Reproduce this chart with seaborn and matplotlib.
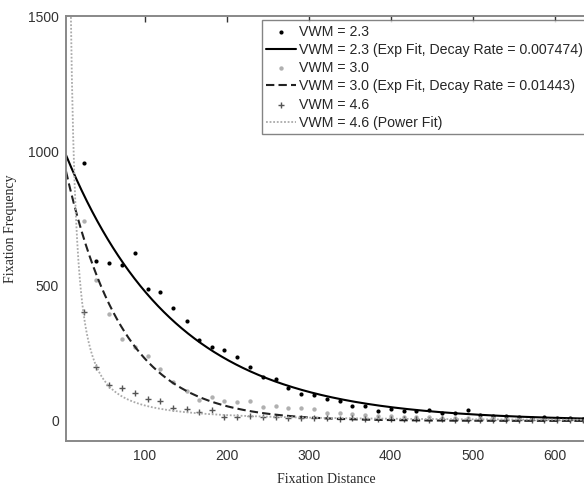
import numpy as np
import matplotlib
matplotlib.use('Agg')
import matplotlib.pyplot as plt
import seaborn as sns

sns.set_theme(style='white')
plt.rcParams['font.family'] = ['Liberation Sans', 'DejaVu Sans']

# 데이터
dist = [26, 41, 57, 72, 88, 104, 119, 135, 151, 166, 182, 197, 213, 229, 244,
        260, 275, 291, 307, 322, 338, 353, 369, 385, 400, 416, 431, 447, 463,
        478, 494, 509, 525, 541, 556, 572, 587, 603, 619, 634]
vwm23 = [956, 594, 584, 578, 621, 489, 479, 417, 370, 300, 275, 263, 235, 201,
         164, 155, 121, 99, 96, 80, 72, 57, 57, 37, 44, 35, 37, 41, 30, 31, 41,
         22, 18, 20, 15, 12, 13, 10, 9, 8]
vwm30 = [742, 522, 396, 302, 273, 241, 191, 146, 111, 78, 90, 72, 69, 72, 53,
         57, 49, 48, 44, 30, 28, 25, 22, 20, 18, 16, 15, 14, 12, 12, 10, 10, 9,
         8, 8, 7, 7, 6, 6, 5]
vwm46 = [405, 199, 133, 123, 103, 80, 72, 47, 43, 34, 41, 16, 16, 20, 14, 16,
         10, 10, 12, 9, 8, 10, 7, 8, 6, 7, 6, 5, 6, 5, 5, 4, 5, 4, 4, 3, 4, 3,
         3, 3]

# 피팅 파라미터
amp23, rate23 = 1015, 0.007474
amp30, rate30 = 980, 0.01443
pow_a, pow_b = 38600, -1.414

xfit = np.linspace(4, 640, 800)
fit23 = amp23 * np.exp(-rate23 * xfit)
fit30 = amp30 * np.exp(-rate30 * xfit)
fit46 = pow_a * xfit ** pow_b

fig = plt.figure(figsize=(5.84, 4.88), dpi=100)
ax = fig.add_axes([0.113, 0.096, 0.893, 0.871])

sns.scatterplot(x=dist, y=vwm23, ax=ax, marker='o', s=9, color='black',
                linewidth=0, label='VWM = 2.3')
sns.lineplot(x=xfit, y=fit23, ax=ax, color='black', linewidth=1.5,
             label='VWM = 2.3 (Exp Fit, Decay Rate = 0.007474)')
sns.scatterplot(x=dist, y=vwm30, ax=ax, marker='o', s=10, color='#b0b0b0',
                linewidth=0, label='VWM = 3.0')
sns.lineplot(x=xfit, y=fit30, ax=ax, color='#222222', linewidth=1.5,
             linestyle=(0, (4, 2)),
             label='VWM = 3.0 (Exp Fit, Decay Rate = 0.01443)')
sns.scatterplot(x=dist, y=vwm46, ax=ax, marker='+', s=20, color='#555555',
                linewidth=1.0, label='VWM = 4.6')
sns.lineplot(x=xfit, y=fit46, ax=ax, color='#aaaaaa', linewidth=1.3,
             linestyle=(0, (1, 1)), label='VWM = 4.6 (Power Fit)')

ax.set_xlim(4, 640)
ax.set_ylim(-75, 1500)
ax.set_xticks([100, 200, 300, 400, 500, 600])
ax.set_yticks([0, 500, 1000, 1500])
ax.tick_params(axis='both', labelsize=10, colors='#333333', length=4,
               width=1, direction='in', top=True, right=True)
ax.tick_params(axis='x', pad=6)
ax.tick_params(axis='y', direction='out', length=3, pad=2)
for sp in ax.spines.values():
    sp.set_color('#888888')
    sp.set_linewidth(1.4)

ax.set_xlabel('Fixation Distance', fontsize=10, family='Liberation Serif',
              labelpad=7)
ax.set_ylabel('Fixation Frequency', fontsize=10, family='Liberation Serif',
              labelpad=8)

leg = ax.legend(loc='upper left', bbox_to_anchor=(0.376, 0.99), fontsize=10.2,
                frameon=True, fancybox=False, edgecolor='#666666',
                handlelength=2.1, handletextpad=0.2, borderpad=0.3,
                labelspacing=0.3, borderaxespad=0)
leg.get_frame().set_linewidth(1.0)

plt.savefig('out.png', dpi=100)
